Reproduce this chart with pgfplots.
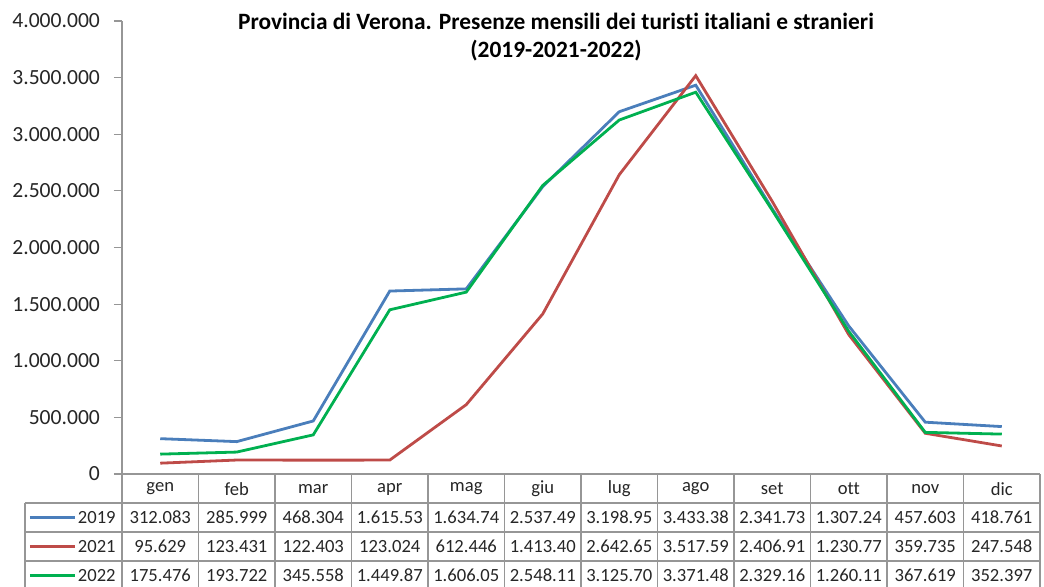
\documentclass[border=0pt]{standalone}
\usepackage{pgfplots}
\pgfplotsset{compat=1.18}
\usepackage{fontspec}
\setmainfont[Ligatures={NoCommon}]{Carlito}

\definecolor{c19}{RGB}{74,126,187}
\definecolor{c21}{RGB}{190,75,72}
\definecolor{c22}{RGB}{0,176,80}
\definecolor{gridgray}{RGB}{150,150,150}

\begin{document}
\begin{tikzpicture}
\useasboundingbox (-61pt,-56pt) rectangle (461pt,237pt);
\begin{axis}[
    at={(0,0)}, anchor=south west,
    scale only axis,
    width=459pt, height=226.5pt,
    xmin=0, xmax=12,
    ymin=0, ymax=4000000,
    axis x line=none,
    axis y line*=left,
    y axis line style={gridgray, line width=0.6pt},
    ytick={0,500000,...,4000000},
    ytick style={gridgray, line width=0.6pt},
    tick align=outside,
    major tick length=4pt,
    scaled y ticks=false,
    yticklabel style={font=\fontsize{10.8}{13}\selectfont, text=black!85, xshift=-3.5pt},
    /pgf/number format/.cd, fixed, 1000 sep={.}, assume math mode=true,
    /pgfplots/.cd,
    clip=false,
]
% 2019
\addplot[c19, line width=1.4pt] coordinates {
 (0.5,312083) (1.5,285999) (2.5,468304) (3.5,1615530) (4.5,1634740) (5.5,2537490)
 (6.5,3198950) (7.5,3433380) (8.5,2341730) (9.5,1307240) (10.5,457603) (11.5,418761)
};
% 2021
\addplot[c21, line width=1.4pt] coordinates {
 (0.5,95629) (1.5,123431) (2.5,122403) (3.5,123024) (4.5,612446) (5.5,1413400)
 (6.5,2642650) (7.5,3517590) (8.5,2406910) (9.5,1230770) (10.5,359735) (11.5,247548)
};
% 2022
\addplot[c22, line width=1.4pt] coordinates {
 (0.5,175476) (1.5,193722) (2.5,345558) (3.5,1449870) (4.5,1606050) (5.5,2548110)
 (6.5,3125700) (7.5,3371480) (8.5,2329160) (9.5,1260110) (10.5,367619) (11.5,352397)
};
\end{axis}

% title
\node[font=\bfseries\fontsize{11.7}{14}\selectfont, align=center] at (217pt,218.5pt)
  {Provincia di Verona. Presenze mensili dei turisti italiani e stranieri\\(2019-2021-2022)};

% data table
\begin{scope}[gridgray, line width=0.6pt]
\draw (0,0) -- (459pt,0);
\draw (-48.5pt,-14.5pt) -- (459pt,-14.5pt);
\draw (-48.5pt,-29pt) -- (459pt,-29pt);
\draw (-48.5pt,-43.5pt) -- (459pt,-43.5pt);
\draw (-48.5pt,-58pt) -- (459pt,-58pt);
\draw (-48.5pt,-14.5pt) -- (-48.5pt,-58pt);
\foreach \i in {0,...,12} \draw ({\i*38.25pt},0) -- ({\i*38.25pt},-58pt);
\end{scope}

\begin{scope}[every node/.style={font=\fontsize{9.3}{10}\selectfont, text=black!85}]
\foreach \m [count=\i from 0] in {gen,feb,mar,apr,mag,giu,lug,ago,set,ott,nov,dic}
  \node at ({(\i+0.5)*38.25pt},-7.5pt) {\m};
\foreach \v [count=\i from 0] in {312.083,285.999,468.304,1.615.53,1.634.74,2.537.49,3.198.95,3.433.38,2.341.73,1.307.24,457.603,418.761}
  \node at ({(\i+0.5)*38.25pt},-21.75pt) {\v};
\foreach \v [count=\i from 0] in {95.629,123.431,122.403,123.024,612.446,1.413.40,2.642.65,3.517.59,2.406.91,1.230.77,359.735,247.548}
  \node at ({(\i+0.5)*38.25pt},-36.25pt) {\v};
\foreach \v [count=\i from 0] in {175.476,193.722,345.558,1.449.87,1.606.05,2.548.11,3.125.70,3.371.48,2.329.16,1.260.11,367.619,352.397}
  \node at ({(\i+0.5)*38.25pt},-50.75pt) {\v};
\draw[c19, line width=1.4pt] (-46pt,-21.75pt) -- (-23.5pt,-21.75pt);
\draw[c21, line width=1.4pt] (-46pt,-36.25pt) -- (-23.5pt,-36.25pt);
\draw[c22, line width=1.4pt] (-46pt,-50.75pt) -- (-23.5pt,-50.75pt);
\node[anchor=east, inner sep=0pt] at (-3pt,-21.75pt) {2019};
\node[anchor=east, inner sep=0pt] at (-3pt,-36.25pt) {2021};
\node[anchor=east, inner sep=0pt] at (-3pt,-50.75pt) {2022};
\end{scope}
\end{tikzpicture}
\end{document}
